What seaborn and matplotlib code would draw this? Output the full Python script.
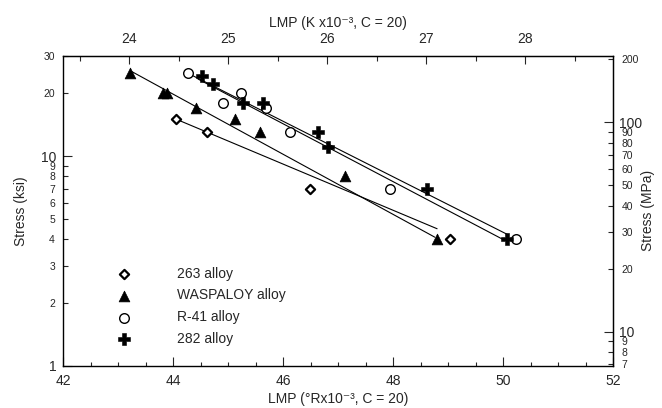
import matplotlib
matplotlib.use("Agg")
import matplotlib.pyplot as plt
import seaborn as sns
import numpy as np
import pandas as pd

# ---- data ----
a263_x = [44.05, 44.61, 46.49, 49.04]
a263_y = [15, 13, 7, 4]
wasp_x = [43.22, 43.82, 43.88, 44.41, 45.13, 45.58, 47.13, 48.80]
wasp_y = [25, 20, 20, 17, 15, 13, 8, 4]
r41_x = [44.27, 44.90, 45.23, 45.68, 46.13, 47.94, 50.23]
r41_y = [25, 18, 20, 17, 13, 7, 4]
a282_x = [44.52, 44.73, 45.27, 45.64, 46.64, 46.82, 48.62, 50.08]
a282_y = [24, 22, 18, 18, 13, 11, 7, 4]

# fitted trend lines (end points)
fit263_x = [44.05, 48.80]
fit263_y = [15, 4.5]
fitwasp_x = [43.22, 48.76]
fitwasp_y = [25.5, 4.1]
fitr41_x = [44.27, 50.10]
fitr41_y = [24.8, 4.2]
fit282_x = [44.45, 50.00]
fit282_y = [23.3, 4.0]

labels = ["263 alloy", "WASPALOY alloy", "R-41 alloy", "282 alloy"]

bottom_major = [42, 44, 46, 48, 50, 52]
top_major = [24, 25, 26, 27, 28]
left_major = [1, 10]
left_minor = [2, 3, 4, 5, 6, 7, 8, 9, 20, 30]
right_major = [10, 100]
right_minor = [7, 8, 9, 20, 30, 40, 50, 60, 70, 80, 90, 200]

sns.set_style("ticks")
plt.rcParams['font.family'] = ['Liberation Sans', 'DejaVu Sans']

fig = plt.figure(figsize=(6.62, 4.08), dpi=100)
ax = fig.add_axes([63.3/662, 1-365.7/408, 549.7/662, 309.7/408])
ax.set_yscale('log')

# trend lines
for fx, fy in [(fit263_x, fit263_y), (fitwasp_x, fitwasp_y),
               (fitr41_x, fitr41_y), (fit282_x, fit282_y)]:
    sns.lineplot(x=fx, y=fy, ax=ax, color='black', lw=0.8, estimator=None)

# points
sns.scatterplot(x=a263_x, y=a263_y, ax=ax, marker='D', s=22, facecolor='white',
                edgecolor='black', linewidth=1.6, label=labels[0], zorder=3)
sns.scatterplot(x=wasp_x, y=wasp_y, ax=ax, marker='^', s=60, color='black',
                edgecolor='black', linewidth=0.5, label=labels[1], zorder=3)
sns.scatterplot(x=r41_x, y=r41_y, ax=ax, marker='o', s=48, facecolor='white',
                edgecolor='black', linewidth=1.0, label=labels[2], zorder=3)
sns.scatterplot(x=a282_x, y=a282_y, ax=ax, marker='P', s=80, color='black',
                edgecolor='black', linewidth=0.4, label=labels[3], zorder=3)

ax.set_xlim(42, 52)
ax.set_ylim(1, 30)

for sp in ax.spines.values():
    sp.set_visible(True)
    sp.set_color('black')
    sp.set_linewidth(1.0)

# bottom ticks
ax.set_xticks(bottom_major)
ax.set_xticklabels([str(v) for v in bottom_major])
ax.set_xticks(np.arange(42, 52.01, 0.5), minor=True)
ax.tick_params(axis='x', which='major', direction='in', length=6.5, width=0.8,
               labelsize=10, pad=6, top=False)
ax.tick_params(axis='x', which='minor', direction='in', length=3, width=0.8, top=False)

# left ticks
ax.set_yticks(left_major)
ax.set_yticklabels([str(v) for v in left_major])
ax.set_yticks(left_minor, minor=True)
ax.set_yticklabels([str(v) for v in left_minor], minor=True)
ax.tick_params(axis='y', which='major', direction='in', length=6.5, width=0.8,
               labelsize=10, pad=5, right=False)
ax.tick_params(axis='y', which='minor', direction='in', length=3.5, width=0.8,
               labelsize=7.5, pad=6, right=False)

ax.set_xlabel("LMP (°Rx10⁻³, C = 20)", fontsize=10)
ax.set_ylabel("Stress (ksi)", fontsize=10)
ax.xaxis.set_label_coords(0.5, -0.085)
ax.yaxis.set_label_coords(-0.064, 0.5)

# top axis (K)
top = ax.secondary_xaxis('top', functions=(lambda r: r / 1.8, lambda k: k * 1.8))
top.set_xticks(top_major)
top.set_xticklabels([str(v) for v in top_major])
top.set_xticks([v for v in np.arange(23.5, 29.0, 0.5) if v not in top_major], minor=True)
top.tick_params(axis='x', which='major', direction='in', length=6, width=0.8,
                labelsize=10, pad=7)
top.tick_params(axis='x', which='minor', direction='in', length=3.5, width=0.8)
top.set_xlabel("LMP (K x10⁻³, C = 20)", fontsize=10)
top.xaxis.set_label_coords(0.5, 1.095, transform=ax.transAxes)

# right axis (MPa)
right = ax.secondary_yaxis('right', functions=(lambda k: k * 6.895, lambda m: m / 6.895))
right.set_yticks(right_major)
right.set_yticklabels([str(v) for v in right_major])
right.set_yticks(right_minor, minor=True)
right.set_yticklabels([str(v) for v in right_minor], minor=True)
right.tick_params(axis='y', which='major', direction='in', length=6.5, width=0.8,
                  labelsize=10, pad=4)
right.tick_params(axis='y', which='minor', direction='in', length=3.5, width=0.8,
                  labelsize=7.5, pad=6)
right.set_ylabel("Stress (MPa)", fontsize=10)
right.yaxis.set_label_coords(1.051, 0.5, transform=ax.transAxes)

# legend
leg = ax.legend(loc='upper left', bbox_to_anchor=(0.0977, 0.32), frameon=False,
                handlelength=1.0, handletextpad=3.3, labelspacing=0.56,
                borderpad=0, borderaxespad=0, fontsize=10)

fig.savefig("out.png", dpi=100)
